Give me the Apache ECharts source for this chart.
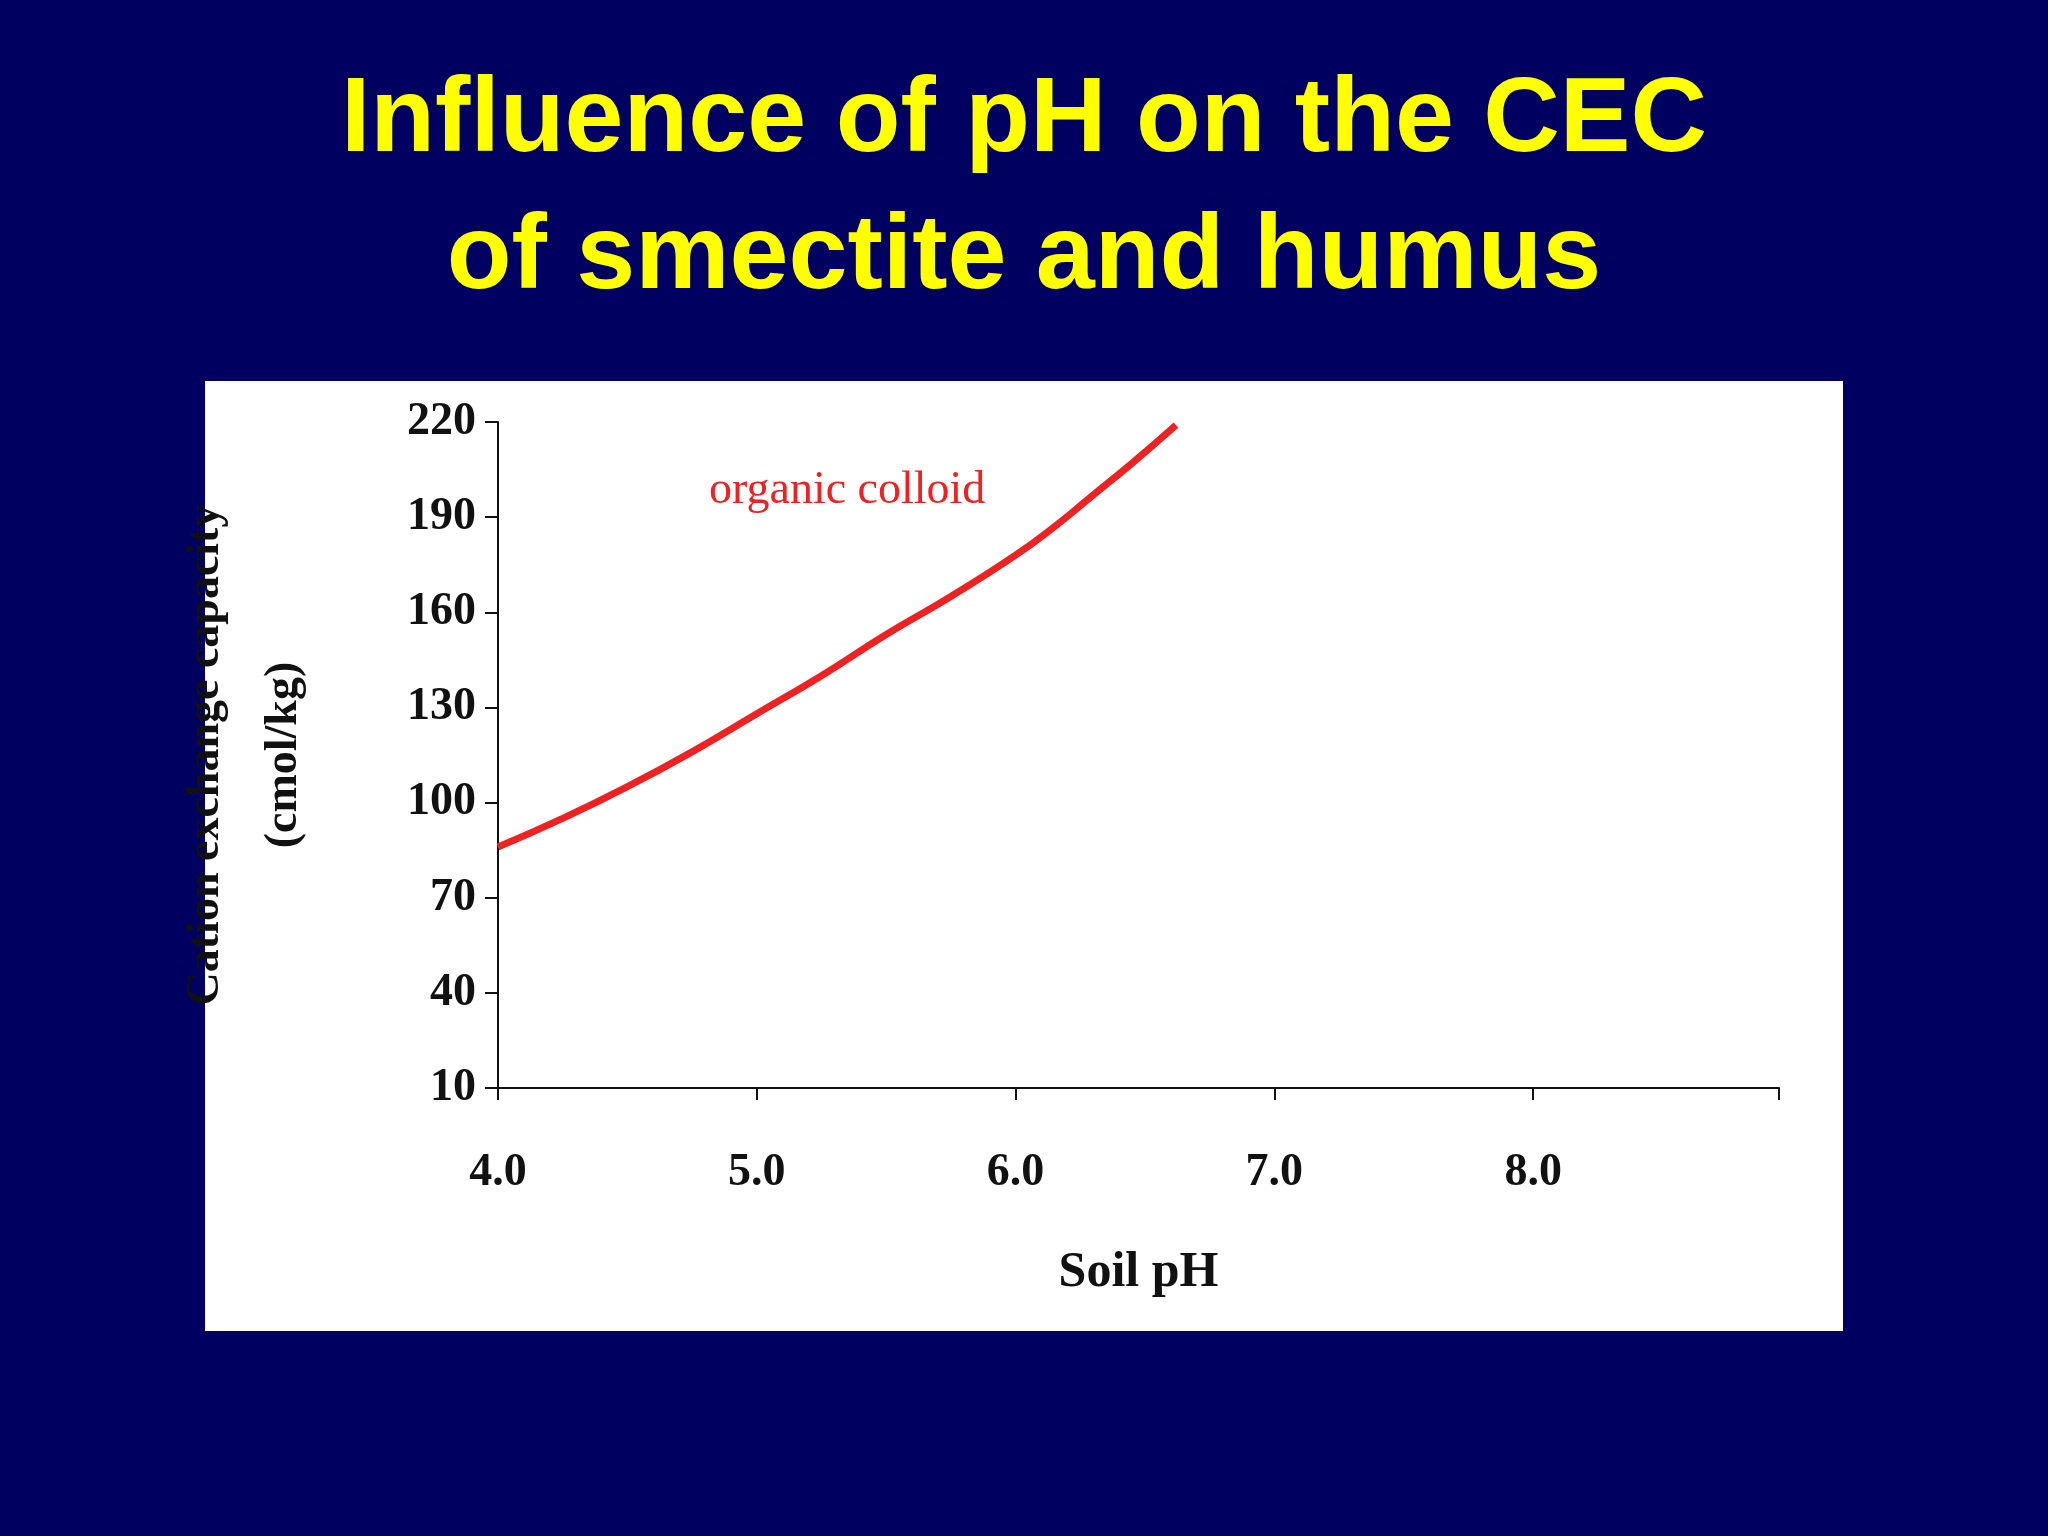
<!DOCTYPE html><html><head><meta charset="utf-8">
<script src="https://cdn.jsdelivr.net/npm/echarts@6/dist/echarts.min.js"></script>
<style>html,body{margin:0;padding:0;background:#000060}#c{width:2048px;height:1536px}</style></head><body><div id="c"></div><script>
const titleLines = ["Influence of pH on the CEC", "of smectite and humus"];
const phValues = [4.0, 4.25, 4.5, 4.75, 5.0, 5.25, 5.5, 5.75, 6.0, 6.15, 6.3, 6.45, 6.62];
const cecValues = [86, 95, 105, 116, 128, 140, 153, 165, 178, 187, 197, 207, 219];
const seriesName = "organic colloid";
const chart = echarts.init(document.getElementById('c'));
chart.setOption({
  backgroundColor: '#000060',
  animation: false,
  title: {text: titleLines.join('\n'), left: 'center', top: 48,
    textStyle: {color: '#ffff00', fontFamily: 'Liberation Sans, Arial', fontWeight: 'bold', fontSize: 106, lineHeight: 137,
      textShadowColor: '#000000', textShadowOffsetX: 5, textShadowOffsetY: 5, textShadowBlur: 0}},
  graphic: [{type: 'rect', z: -10, shape: {x: 205, y: 381, width: 1638, height: 950}, style: {fill: '#ffffff'}},
    {type: 'text', left: 709, top: 468, style: {text: seriesName, fill: '#ee2222', font: '46px "Liberation Serif"'}}],
  grid: {left: 498, right: 269, top: 422, bottom: 448},
  xAxis: {type: 'value', min: 4, max: 8.95, interval: 1,
    name: 'Soil pH', nameLocation: 'middle', nameGap: 160,
    nameTextStyle: {color: '#111', fontFamily: 'Liberation Serif', fontWeight: 'bold', fontSize: 50},
    axisLine: {lineStyle: {color: '#111', width: 2}}, axisTick: {length: 12, lineStyle: {color: '#111', width: 2}},
    splitLine: {show: false},
    axisLabel: {margin: 62, color: '#111', fontFamily: 'Liberation Serif', fontWeight: 'bold', fontSize: 46,
      formatter: v => Number.isInteger(Math.round(v*1000)/1000) ? v.toFixed(1) : ''}},
  yAxis: {type: 'value', min: 10, max: 220, interval: 30,
    name: 'Cation exchange capacity\n(cmol/kg)', nameLocation: 'middle', nameGap: 175, nameRotate: 90,
    nameTextStyle: {color: '#111', fontFamily: 'Liberation Serif', fontWeight: 'bold', fontSize: 46, lineHeight: 78},
    axisLine: {show: true, lineStyle: {color: '#111', width: 2}}, axisTick: {show: true, length: 13, lineStyle: {color: '#111', width: 2}},
    splitLine: {show: false},
    axisLabel: {margin: 22, color: '#111', fontFamily: 'Liberation Serif', fontWeight: 'bold', fontSize: 46}},
  series: [{type: 'line', name: seriesName, smooth: true, showSymbol: false,
    data: phValues.map((p, i) => [p, cecValues[i]]), lineStyle: {color: '#ee2222', width: 7}}]
});
</script></body></html>
